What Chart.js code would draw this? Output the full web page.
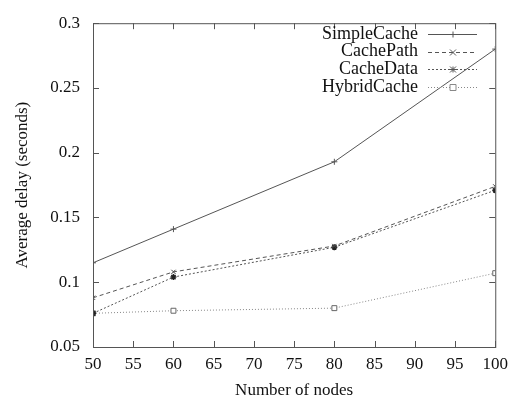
<!DOCTYPE html>
<html>
<head>
<meta charset="utf-8">
<script src="https://cdn.jsdelivr.net/npm/chart.js@4.4.1/dist/chart.umd.min.js"></script>
<style>
  html, body { margin: 0; padding: 0; background: #fff; }
  #wrap { width: 515px; height: 401px; }
</style>
</head>
<body>
<div id="wrap"><canvas id="chartDelay"></canvas></div>
<script>
const nodes = [50, 60, 80, 100];
const simpleCache = [0.115, 0.141, 0.193, 0.280];
const cachePath = [0.088, 0.108, 0.128, 0.174];
const cacheData = [0.076, 0.104, 0.127, 0.171];
const hybridCache = [0.076, 0.078, 0.080, 0.107];
const seriesNames = ['SimpleCache', 'CachePath', 'CacheData', 'HybridCache'];

const serif = "'Liberation Serif', 'DejaVu Serif', serif";
const axisColor = '#555';

function pts(vals) {
  return nodes.map((n, i) => ({x: n, y: vals[i]}));
}

// small marker painter, used for the legend samples
function marker(ctx, style, x, y, r, color) {
  ctx.save();
  ctx.strokeStyle = color;
  ctx.lineWidth = 1;
  ctx.setLineDash([]);
  ctx.beginPath();
  if (style === 'cross' || style === 'star') {
    ctx.moveTo(x - r, y); ctx.lineTo(x + r, y);
    ctx.moveTo(x, y - r); ctx.lineTo(x, y + r);
  }
  if (style === 'crossRot' || style === 'star') {
    ctx.moveTo(x - r, y - r); ctx.lineTo(x + r, y + r);
    ctx.moveTo(x - r, y + r); ctx.lineTo(x + r, y - r);
  }
  if (style === 'rect') {
    ctx.fillStyle = '#fff';
    ctx.fillRect(x - r, y - r, 2 * r, 2 * r);
    ctx.rect(x - r, y - r, 2 * r, 2 * r);
  }
  ctx.stroke();
  ctx.restore();
}

const frame = {
  id: 'frame',
  afterDraw(chart) {
    const ctx = chart.ctx;
    const a = chart.chartArea;
    const xs = chart.scales.x, ys = chart.scales.y;
    ctx.save();
    ctx.strokeStyle = axisColor;
    ctx.lineWidth = 1;
    ctx.strokeRect(a.left + 0.5, a.top + 0.5, a.right - a.left, a.bottom - a.top);
    ctx.beginPath();
    xs.ticks.forEach(t => {
      const px = Math.round(xs.getPixelForValue(t.value)) + 0.5;
      ctx.moveTo(px, a.bottom); ctx.lineTo(px, a.bottom - 6);
      ctx.moveTo(px, a.top); ctx.lineTo(px, a.top + 6);
    });
    ys.ticks.forEach(t => {
      const py = Math.round(ys.getPixelForValue(t.value)) + 0.5;
      ctx.moveTo(a.left, py); ctx.lineTo(a.left + 6, py);
      ctx.moveTo(a.right, py); ctx.lineTo(a.right - 6, py);
    });
    ctx.stroke();

    // legend: text right aligned, line sample on the right
    ctx.font = '18px ' + serif;
    ctx.textAlign = 'right';
    ctx.textBaseline = 'middle';
    chart.data.datasets.forEach((ds, i) => {
      const y = 34 + i * 17.7;
      ctx.fillStyle = '#111';
      ctx.fillText(ds.label, 418, y);
      ctx.strokeStyle = ds.borderColor;
      ctx.setLineDash(ds.borderDash || []);
      ctx.beginPath();
      ctx.moveTo(428, Math.round(y) + 0.5);
      ctx.lineTo(477, Math.round(y) + 0.5);
      ctx.stroke();
      marker(ctx, ds.pointStyle, 453, Math.round(y) + 0.5, 3, ds.borderColor);
    });
    ctx.restore();
  }
};

new Chart(document.getElementById('chartDelay'), {
  type: 'line',
  data: {
    datasets: [{
      label: seriesNames[0],
      data: pts(simpleCache),
      borderColor: '#555',
      borderWidth: 1,
      pointStyle: 'cross',
      pointRadius: 3,
      pointBorderColor: '#555',
      pointBorderWidth: 1
    }, {
      label: seriesNames[1],
      data: pts(cachePath),
      borderColor: '#555',
      borderWidth: 1,
      borderDash: [4, 3],
      pointStyle: 'crossRot',
      pointRadius: 3,
      pointBorderColor: '#444',
      pointBorderWidth: 1
    }, {
      label: seriesNames[2],
      data: pts(cacheData),
      borderColor: '#555',
      borderWidth: 1,
      borderDash: [2, 2],
      pointStyle: 'star',
      pointRadius: 3,
      pointBorderColor: '#222',
      pointBorderWidth: 1.5
    }, {
      label: seriesNames[3],
      data: pts(hybridCache),
      borderColor: '#888',
      borderWidth: 1,
      borderDash: [1, 2],
      pointStyle: 'rect',
      pointRadius: 3.5,
      pointBackgroundColor: '#fff',
      pointBorderColor: '#666',
      pointBorderWidth: 1
    }]
  },
  options: {
    responsive: true,
    maintainAspectRatio: false,
    animation: false,
    layout: { padding: { left: 0, top: 18, right: 17, bottom: 0 } },
    plugins: {
      legend: { display: false },
      tooltip: { enabled: false }
    },
    scales: {
      x: {
        type: 'linear',
        min: 50,
        max: 100,
        afterFit(s) { s.height = 54; },
        ticks: {
          stepSize: 5,
          padding: 7,
          color: '#111',
          font: { family: serif, size: 17 }
        },
        grid: { display: false, drawTicks: false },
        border: { display: false },
        title: {
          display: true,
          text: 'Number of nodes',
          color: '#111',
          padding: { top: 0, bottom: 0 },
          font: { family: serif, size: 17 }
        }
      },
      y: {
        min: 0.05,
        max: 0.3,
        afterFit(s) { s.width = 93; },
        ticks: {
          stepSize: 0.05,
          padding: 13,
          color: '#111',
          font: { family: serif, size: 17 },
          callback: v => String(Number(v.toFixed(2)))
        },
        grid: { display: false, drawTicks: false },
        border: { display: false },
        title: {
          display: true,
          text: 'Average delay (seconds)',
          color: '#111',
          padding: { top: 12, bottom: 0 },
          font: { family: serif, size: 17 }
        }
      }
    }
  },
  plugins: [frame]
});
</script>
</body>
</html>
